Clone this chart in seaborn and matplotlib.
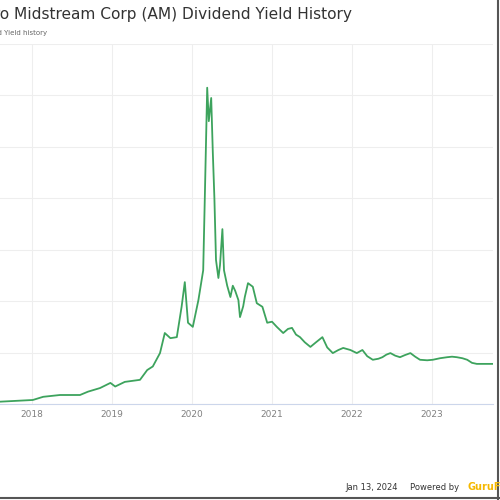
import matplotlib
matplotlib.use("Agg")
import matplotlib.pyplot as plt
import pandas as pd
import seaborn as sns

# decimal year -> dividend yield (%)
years = [
    2017.40, 2017.50, 2017.60, 2018.01, 2018.14, 2018.35, 2018.60, 2018.70,
    2018.85, 2018.98, 2019.04, 2019.16, 2019.35, 2019.44, 2019.51, 2019.60,
    2019.66, 2019.73, 2019.81, 2019.87, 2019.91, 2019.95, 2020.01, 2020.08,
    2020.14, 2020.16, 2020.19, 2020.21, 2020.24, 2020.26, 2020.28, 2020.30,
    2020.33, 2020.35, 2020.38, 2020.40, 2020.44, 2020.48, 2020.51, 2020.54,
    2020.58, 2020.60, 2020.64, 2020.66, 2020.70, 2020.76, 2020.81, 2020.88,
    2020.94, 2021.00, 2021.06, 2021.14, 2021.20, 2021.25, 2021.30, 2021.35,
    2021.41, 2021.48, 2021.55, 2021.63, 2021.69, 2021.76, 2021.83, 2021.89,
    2021.98, 2022.06, 2022.13, 2022.19, 2022.26, 2022.33, 2022.38, 2022.43,
    2022.48, 2022.54, 2022.60, 2022.66, 2022.73, 2022.79, 2022.85, 2022.94,
    2023.01, 2023.10, 2023.19, 2023.25, 2023.31, 2023.38, 2023.44, 2023.50,
    2023.56, 2023.66, 2023.76,
]
yield_pct = [
    0.3, 0.4, 0.45, 0.78, 1.4, 1.75, 1.75, 2.4,
    3.1, 4.1, 3.4, 4.3, 4.7, 6.6, 7.3, 9.9,
    13.8, 12.8, 13.0, 18.9, 23.7, 15.8, 15.0, 20.2,
    26.0, 40.0, 61.5, 55.0, 59.5, 49.0, 40.0, 28.0,
    24.5, 27.0, 34.0, 26.0, 23.0, 20.8, 23.0, 22.0,
    20.2, 16.9, 19.0, 20.8, 23.5, 22.8, 19.6, 18.9,
    15.8, 16.0, 15.0, 13.8, 14.6, 14.8, 13.5, 13.0,
    12.0, 11.1, 12.0, 13.0, 11.0, 9.9, 10.5, 10.9,
    10.5, 9.9, 10.5, 9.3, 8.6, 8.8, 9.1, 9.6,
    9.9, 9.4, 9.1, 9.5, 9.9, 9.2, 8.6, 8.5,
    8.6, 8.9, 9.1, 9.2, 9.1, 8.9, 8.6, 8.0,
    7.8, 7.8, 7.8,
]
tick_years = [2018, 2019, 2020, 2021, 2022, 2023]
y_ticks = [0, 10, 20, 30, 40, 50, 60, 70]

sns.set_theme(style="whitegrid")
plt.rcParams["font.family"] = ["DejaVu Sans"]

df = pd.DataFrame({"year": years, "yield": yield_pct})

fig = plt.figure(figsize=(5, 5), dpi=100)
fig.patch.set_facecolor("white")
# axes extend past the left edge, like the cropped original
ax = fig.add_axes([-0.1, 0.192, 1.086, 0.72])
sns.lineplot(data=df, x="year", y="yield", ax=ax, color="#3da35d",
             linewidth=1.3, estimator=None, sort=False)

ax.set_xlim(2016.975, 2023.7625)
ax.set_ylim(0, 70)
ax.set_xticks(tick_years)
ax.set_xticklabels([str(y) for y in tick_years])
ax.set_yticks(y_ticks)
ax.set_yticklabels([])
ax.set_xlabel("")
ax.set_ylabel("")
ax.set_facecolor("white")
ax.grid(True, color="#eeeeee", linewidth=0.8)
for side in ["top", "left", "right"]:
    ax.spines[side].set_visible(False)
ax.spines["bottom"].set_color("#ccd6eb")
ax.spines["bottom"].set_linewidth(0.8)
ax.tick_params(axis="x", length=0, pad=4, labelsize=6.5, labelcolor="#808080")
ax.tick_params(axis="y", length=0)

fig.text(352 / 500, 1 - 15 / 500, "Antero Midstream Corp (AM) Dividend Yield History",
         ha="right", va="center", fontsize=11.1, color="#333333")
fig.text(47 / 500, 1 - 33 / 500, "Dividend Yield history",
         ha="right", va="center", fontsize=5, color="#666666")

fig.text(398 / 500, 1 - 487 / 500, "Jan 13, 2024", ha="right", va="center",
         fontsize=6, color="#333333")
fig.text(410 / 500, 1 - 487 / 500, "Powered by", ha="left", va="center",
         fontsize=6, color="#333333")
fig.text(467 / 500, 1 - 487 / 500, "GuruFocus", ha="left", va="center",
         fontsize=7, color="#f5b800", fontweight="bold")

# thin frame on right and bottom edges of the image
fig.add_artist(plt.Line2D([0.996, 0.996], [0, 1], color="#555555", linewidth=1.5,
                          transform=fig.transFigure))
fig.add_artist(plt.Line2D([0, 1], [0.004, 0.004], color="#555555", linewidth=1.5,
                          transform=fig.transFigure))

fig.savefig("out.png", dpi=100)
